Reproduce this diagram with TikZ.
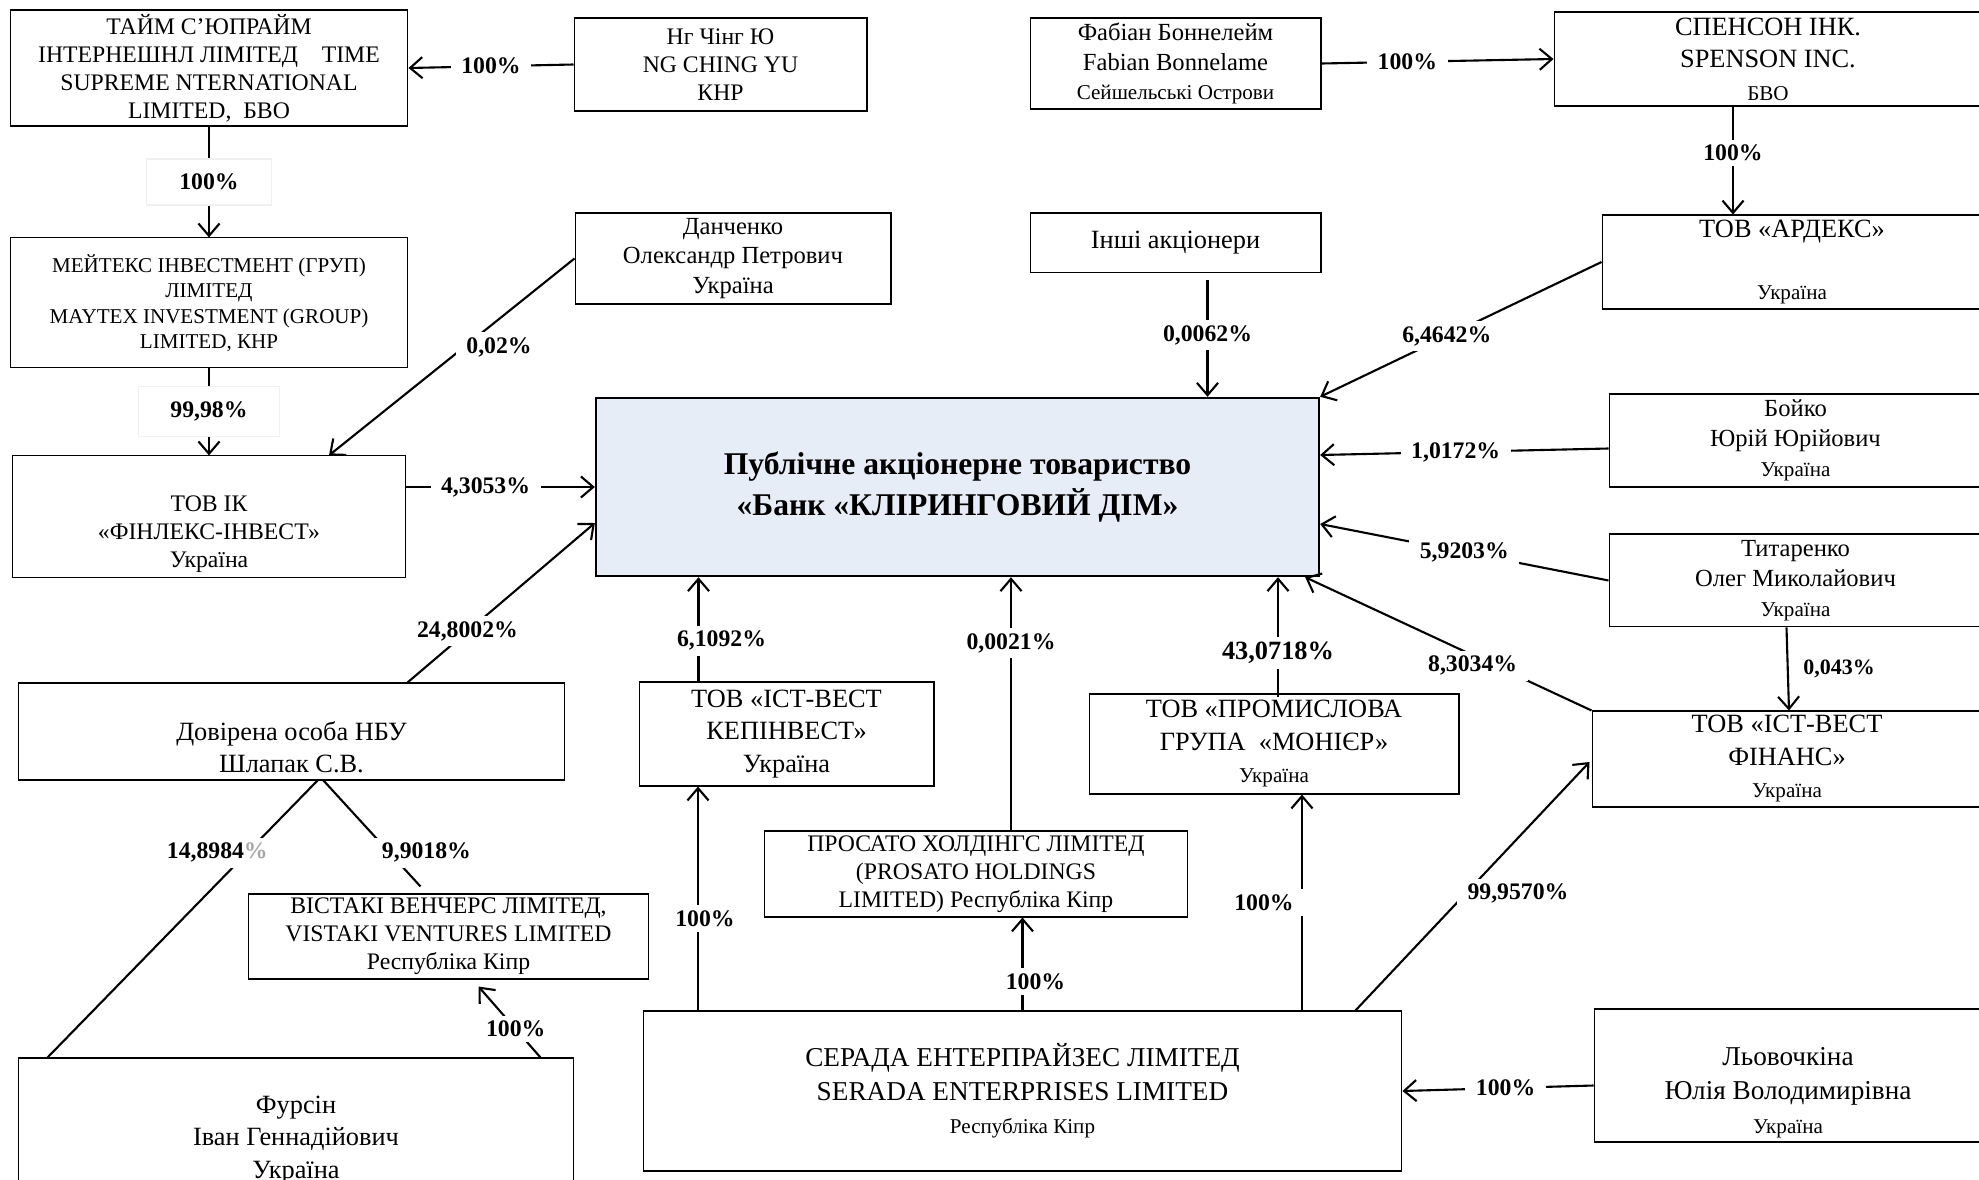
\documentclass[tikz,border=0pt]{standalone}
\usepackage{fontspec}
\setmainfont{Liberation Serif}
\usepackage{tikz}
\usetikzlibrary{arrows.meta,calc}
\definecolor{bankfill}{RGB}{231,237,246}
\newcommand{\cty}[1]{{\fontsize{12}{14.5}\selectfont #1}}
\newcommand{\pushdown}[1]{\rule{0pt}{#1}}
\tikzstyle{block} = [draw, fill=white, rectangle, align=center, inner sep=2pt,
    line width=0.6pt, font=\fontsize{14}{17}\selectfont]
\tikzstyle{blockL} = [block, font=\fontsize{15}{18.5}\selectfont]
\tikzstyle{blockM} = [block, font=\fontsize{13.5}{16}\selectfont]
\tikzstyle{blockS} = [block, font=\fontsize{12}{14.5}\selectfont]
\tikzstyle{bank} = [block, fill=bankfill, line width=1.4pt,
    font=\bfseries\fontsize{18}{23}\selectfont]
\tikzstyle{pct} = [fill=white, inner xsep=6pt, inner ysep=3pt,
    font=\bfseries\fontsize{13.5}{15}\selectfont]
\tikzstyle{pctbox} = [pct, draw=gray!12, line width=0.6pt, minimum width=2.5cm, minimum height=0.92cm]

\begin{document}
\begin{tikzpicture}[x=0.02cm, y=-0.02cm, >={Straight Barb[length=7pt,width=12pt]}, line width=1.2pt]
\useasboundingbox (0,0) rectangle (1979,1180);
% Top row
	\node [blockM, minimum width=7.96cm, minimum height=2.32cm] (T1) at (209,68) {ТАЙМ С’ЮПРАЙМ\\ІНТЕРНЕШНЛ ЛІМІТЕД\quad TIME\\SUPREME NTERNATIONAL\\LIMITED,\ \ БВО};
	\node [blockM, minimum width=5.86cm, minimum height=1.86cm] (T2) at (720.5,64.5) {Нг Чінг Ю\\NG CHING YU\\КНР};
	\node [block, minimum width=5.82cm, minimum height=1.82cm] (T3) at (1175.5,63.5) {Фабіан Боннелейм\\Fabian Bonnelame\\\cty{Сейшельські Острови}};
	\node [blockL, minimum width=8.56cm, minimum height=1.88cm] (T4) at (1768,59) {СПЕНСОН ІНК.\\SPENSON INC.\\\cty{БВО}};
% Second row
	\node [blockS, below of=T1, node distance=4.7cm, minimum width=7.96cm, minimum height=2.6cm] (S1) {МЕЙТЕКС ІНВЕСТМЕНТ (ГРУП)\\ЛІМІТЕД\\MAYTEX INVESTMENT (GROUP)\\LIMITED, КНР};
	\node [block, minimum width=6.32cm, minimum height=1.82cm] (S2) at (733,258.5) {Данченко\\Олександр Петрович\\Україна};
	\node [blockL, below of=T3, node distance=3.59cm, minimum width=5.82cm, minimum height=1.2cm] (S3) {Інші акціонери};
	\node [blockL, minimum width=7.6cm, minimum height=1.88cm] (S4) at (1792,262) {ТОВ «АРДЕКС»\\[0.6cm]\cty{Україна}};
% Bank row
	\node [blockM, below of=S1, node distance=4.28cm, minimum width=7.88cm, minimum height=2.44cm] (M1) {\pushdown{1cm}ТОВ ІК\\«ФІНЛЕКС-ІНВЕСТ»\\Україна};
	\node [bank, minimum width=14.46cm, minimum height=3.56cm] (B1) at (957.5,487) {Публічне акціонерне товариство\\«Банк «КЛІРИНГОВИЙ ДІМ»};
	\node [block, minimum width=7.46cm, minimum height=1.86cm] (M2) at (1795.5,440.5) {Бойко\\Юрій Юрійович\\\cty{Україна}};
	\node [block, below of=M2, node distance=2.8cm, minimum width=7.46cm, minimum height=1.86cm] (M3) {Титаренко\\Олег Миколайович\\\cty{Україна}};
% Lower row
	\node [blockL, minimum width=10.94cm, minimum height=1.94cm] (L1) at (291.5,731.5) {\pushdown{1cm}Довірена особа НБУ\\Шлапак С.В.};
	\node [blockL, minimum width=5.9cm, minimum height=2.08cm] (L2) at (786.5,734) {ТОВ «ІСТ-ВЕСТ\\КЕПІНВЕСТ»\\Україна};
	\node [blockL, minimum width=7.4cm, minimum height=2.0cm] (L3) at (1274,744) {ТОВ «ПРОМИСЛОВА\\ГРУПА\ \ «МОНІЄР»\\\cty{Україна}};
	\node [blockL, minimum width=7.8cm, minimum height=1.92cm] (L4) at (1787,759) {ТОВ «ІСТ-ВЕСТ\\ФІНАНС»\\\cty{Україна}};
% Bottom row
	\node [blockM, minimum width=8.48cm, minimum height=1.72cm] (D1) at (976,874) {ПРОСАТО ХОЛДІНГС ЛІМІТЕД\\(PROSATO HOLDINGS\\LIMITED) Республіка Кіпр};
	\node [blockM, minimum width=8.02cm, minimum height=1.7cm] (D2) at (448.5,936.5) {ВІСТАКІ ВЕНЧЕРС ЛІМІТЕД,\\VISTAKI VENTURES LIMITED\\Республіка Кіпр};
	\node [blockL, minimum width=11.12cm, minimum height=2.94cm] (D3) at (296,1131.5) {\pushdown{0.68cm}Фурсін\\Іван Геннадійович\\Україна};
	\node [blockL, font=\fontsize{15.5}{19}\selectfont, minimum width=15.18cm, minimum height=3.2cm] (D4) at (1022.5,1091) {СЕРАДА ЕНТЕРПРАЙЗЕС ЛІМІТЕД\\SERADA ENTERPRISES LIMITED\\\cty{Республіка Кіпр}};
	\node [blockL, font=\fontsize{15.5}{19.5}\selectfont, minimum width=7.76cm, minimum height=2.66cm] (D5) at (1788,1075.5) {\pushdown{1.04cm}Льовочкіна\\Юлія Володимирівна\\\cty{Україна}};
% Arrows of the top rows
	\draw [->] (T2.west) -- node[pct] {100\%} (T1.east);
	\draw [->] (T1.south) -- node[pctbox] {100\%} (S1.north);
	\draw [->] (S1.south) -- node[pctbox, minimum width=2.82cm, minimum height=1cm] {99,98\%} (M1.north);
	\draw [->] (S2.west) -- node[pct, pos=0.45, xshift=0.7cm] {0,02\%} ($(M1.north)+(120,0)$);
	\draw [->] (T3.east) -- node[pct, pos=0.37] {100\%} (T4.west);
	\coordinate (aref1) at ($(T4.south)+(-35,0)$);
	\draw [->] (aref1) -- node[pct, pos=0.43] {100\%} (aref1 |- S4.north);
	\coordinate (aref2) at ($(S3.south)+(32,7)$);
	\draw [->] (aref2) -- node[pct, pos=0.47] {0,0062\%} (aref2 |- B1.north);
	\draw [->] (S4.west) -- node[pct, pos=0.55] {6,4642\%} (B1.north east);
% Arrows into the bank from the sides
	\draw [->] (M1.east |- B1.west) -- node[pct, pos=0.42] {4,3053\%} (B1.west);
	\draw [->] ($(L1.north)+(116,0)$) -- node[pct, pos=0.32] {24,8002\%} ($(B1.west)+(0,36)$);
	\draw [->] ($(M2.west)+(0,8)$) -- node[pct, pos=0.53] {1,0172\%} ($(B1.east)+(0,-32)$);
	\draw [->] (M3.west) -- node[pct, pos=0.5] {5,9203\%} ($(B1.east)+(0,37)$);
	\draw [->] (L4.north west) -- node[pct, pos=0.45, xshift=0.2cm, yshift=-0.3cm] {8,3034\%} ($(B1.south east)+(-15,0)$);
	\draw [->] ($(M3.south)+(-9,0)$) -- node[right=5pt, font=\bfseries\fontsize{12.5}{14}\selectfont] {0,043\%} ($(L4.north)+(2,0)$);
% Arrows into the bank from below
	\coordinate (bref1) at ($(L2.north)+(-88,0)$);
	\draw [->] (bref1) -- node[pct, pos=0.39, xshift=0.46cm] {6,1092\%} (bref1 |- B1.south);
	\coordinate (bref2) at ($(D1.north)+(35,0)$);
	\draw [->] (bref2) -- node[pct, pos=0.74] {0,0021\%} (bref2 |- B1.south);
	\coordinate (bref3) at ($(L3.north)+(4,4)$);
	\draw [->] (bref3) -- node[pct, pos=0.37, font=\bfseries\fontsize{15}{17}\selectfont] {43,0718\%} (bref3 |- B1.south);
% NBU trustee
	\draw ($(L1.south)+(26,0)$) -- node[pct, pos=0.26, xshift=-0.6cm] {14,8984{\color{gray!70}\%}} ($(D3.north west)+(30,0)$);
	\draw ($(L1.south)+(32,0)$) -- node[pct, pos=0.68, xshift=0.74cm] {9,9018\%} ($(D2.north)+(-28,-7)$);
	\draw [->] ($(D3.north east)+(-34,0)$) -- node[pct, pos=0.4] {100\%} ($(D2.south)+(30,7)$);
% Serada
	\coordinate (cref1) at ($(D4.north)+(-324.5,0)$);
	\draw [->] (cref1) -- node[pct, pos=0.41, xshift=0.14cm] {100\%} (cref1 |- L2.south);
	\draw [->] (D4.north) -- node[pct, pos=0.31, xshift=0.26cm] {100\%} (D4.north |- D1.south);
	\coordinate (cref2) at ($(D4.north)+(279.5,0)$);
	\draw [->] (cref2) -- node[pct, pos=0.5, xshift=-0.76cm] {100\%} (cref2 |- L3.south);
	\draw [->] ($(D4.north east)+(-47,0)$) -- node[pct, pos=0.47, xshift=1.05cm] {99,9570\%} ($(L4.west)+(-2,3)$);
	\draw [->] ($(D5.west)+(0,10)$) -- node[pct, pos=0.46] {100\%} (D4.east);
\end{tikzpicture}
\end{document}
